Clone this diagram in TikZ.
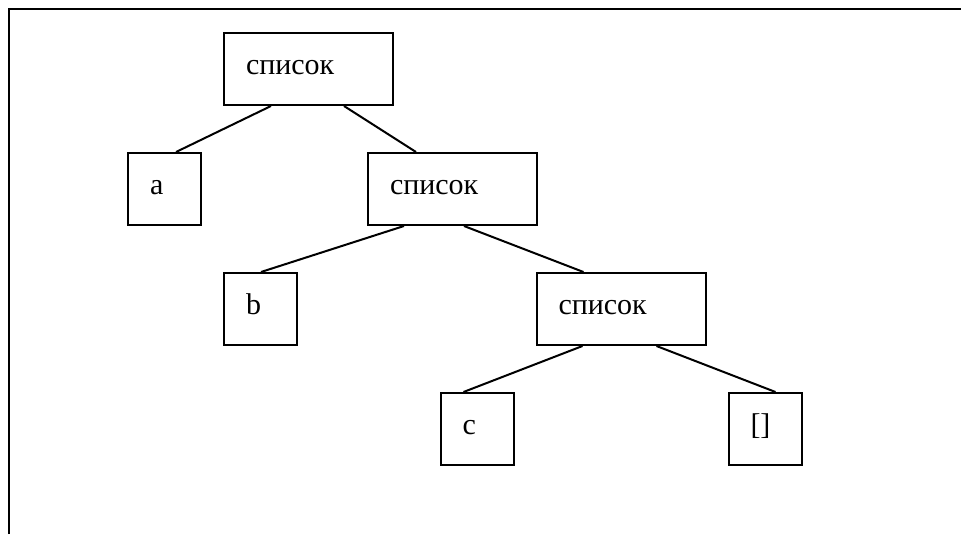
\documentclass[tikz,border=0pt]{standalone}
\usepackage{fontspec}
\setmainfont{Liberation Serif}
\usetikzlibrary{calc}

\begin{document}
\begin{tikzpicture}[
  x=0.4pt,y=-0.4pt,
  every node/.style={font=\fontsize{12}{14}\selectfont},
  listbox/.style={draw,line width=0.8pt,minimum width=67.6pt,minimum height=28.8pt,
                  inner xsep=8.8pt,text width=50pt,align=left,
                  text height=8pt,text depth=3.4pt},
  leafbox/.style={draw,line width=0.8pt,minimum width=29.2pt,minimum height=28.8pt,
                  inner xsep=8.8pt,text width=11.6pt,align=left,
                  text height=8pt,text depth=3.4pt},
  edge/.style={line width=0.8pt},
]
\useasboundingbox (0,0) rectangle (961,534);

% Frame (top and left sides only)
\draw[line width=1pt] (9,534) -- (9,9) -- (961,9);

% List nodes
\node[listbox] (root) at (308.5,69) {список};
\node[listbox] (lst2) at (452.5,189) {список};
\node[listbox] (lst3) at (621,309) {список};

% Leaves
\node[leafbox] (a) at (164.5,189) {a};
\node[leafbox] (b) at (260.5,309) {b};
\node[leafbox] (c) at (477,429) {c};
\node[leafbox] (nil) at (765,429) {[]};

% Branches
\draw[edge] ($(root.south west)+(48,0)$) -- ($(a.north west)+(49,0)$);
\draw[edge] ($(root.south west)+(121,0)$) -- ($(lst2.north west)+(49,0)$);
\draw[edge] ($(lst2.south west)+(37,0)$) -- ($(b.north west)+(38,0)$);
\draw[edge] ($(lst2.south west)+(97,0)$) -- ($(lst3.north west)+(48,0)$);
\draw[edge] ($(lst3.south west)+(47,0)$) -- ($(c.north west)+(24,0)$);
\draw[edge] ($(lst3.south west)+(121,0)$) -- ($(nil.north west)+(48,0)$);

\end{tikzpicture}
\end{document}
